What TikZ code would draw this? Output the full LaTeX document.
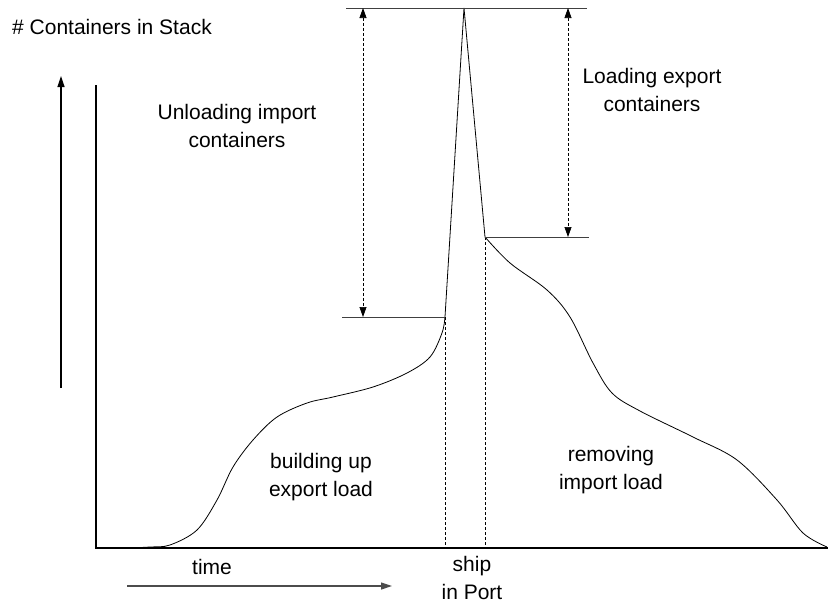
\documentclass[tikz,border=0pt]{standalone}
\usepackage{fontspec}
\setmainfont{Liberation Sans}
\usetikzlibrary{arrows.meta}

\begin{document}
\begin{tikzpicture}[x=1pt, y=-1pt,
  axis/.style={line width=1.6pt},
  level/.style={line width=1pt, draw=black!75},
  stack/.style={line width=0.8pt},
  drop/.style={densely dashed, line width=0.7pt},
  dim/.style={{Triangle[length=10pt,width=7pt]}-{Triangle[length=10pt,width=7pt]},
              densely dashed, line width=0.7pt},
  tip/.style={-{Triangle[length=11pt,width=7pt]}, line width=1.2pt},
  caption/.style={font=\fontsize{21}{27.5}\selectfont, align=center, inner sep=0pt}
]
\useasboundingbox (0,0) rectangle (828,603);

% Axes
\coordinate (origin) at (96,548);
\coordinate (xend) at (828,548);
\coordinate (ytop) at (96,85);
\draw[axis] (ytop) -- (origin) -- (xend);

% Direction arrows
\coordinate (upfrom) at (61,388);
\coordinate (upto) at (61,76);
\draw[tip] (upfrom) -- (upto);
\coordinate (timefrom) at (127,586);
\coordinate (timeto) at (392,586);
\draw[tip, draw=black!70, fill=black] (timefrom) -- (timeto);

% Ship arrives, peak, ship departs
\coordinate (arrive) at (445,317);
\coordinate (peak) at (464,8);
\coordinate (depart) at (485,237);

% Stack level before and after the call
\draw[stack] plot[smooth, tension=0.55] coordinates {
  (128,548) (150,547) (170,545) (197,530) (217,500) (233,467) (253,440)
  (277,417) (307,403) (333,397) (373,387) (407,373) (430,357) (442,333)
  (445,317)};
\draw[stack] (arrive) -- (peak) -- (depart);
\draw[stack] plot[smooth, tension=0.55] coordinates {
  (485,237) (510,263) (547,290) (570,317) (593,363) (612,393) (640,411)
  (693,437) (737,460) (777,500) (803,533) (827,547)};

% Ship in port
\draw[drop] (arrive) -- (arrive |- origin);
\draw[drop] (depart) -- (depart |- origin);

% Level lines
\coordinate (topleft) at (346,8);
\coordinate (topright) at (587,8);
\coordinate (lowleft) at (342,317);
\coordinate (midright) at (589,237);
\draw[level] (topleft) -- (topright);
\draw[level] (lowleft) -- (arrive);
\draw[level] (depart) -- (midright);

% Moves during the call
\coordinate (unloadtop) at (363,8);
\coordinate (unloadbot) at (363,317);
\coordinate (loadtop) at (568,8);
\coordinate (loadbot) at (568,237);
\draw[dim] (unloadtop) -- (unloadbot);
\draw[dim] (loadtop) -- (loadbot);

% Labels
\node[caption] (ylabel) at (112,27) {\# Containers in Stack};
\node[caption] (unload) at (237,126) {Unloading import\\containers};
\node[caption] (load) at (652,90) {Loading export\\containers};
\node[caption] (build) at (321,477) {building up\\export load};
\node[caption] (remove) at (611,470) {removing\\import load};
\node[caption] (time) at (212,567) {time};
\node[caption] (ship) at (472,578) {ship\\in Port};

\end{tikzpicture}
\end{document}
